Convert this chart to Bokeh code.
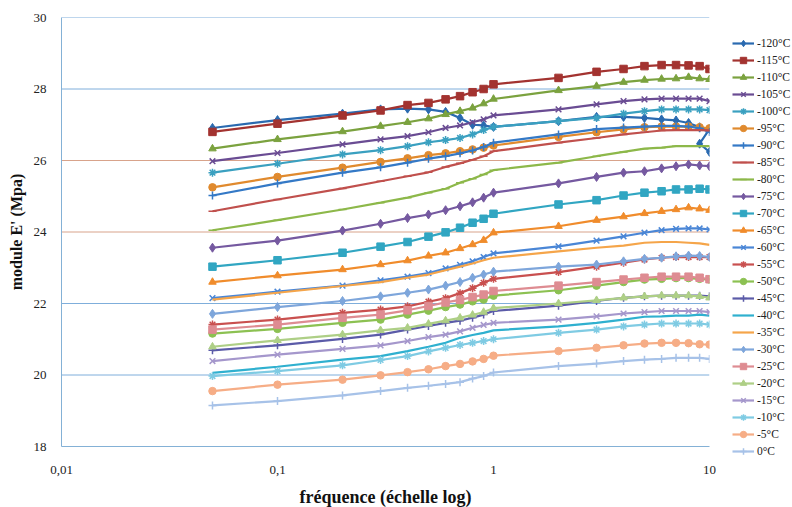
from bokeh.plotting import figure
from bokeh.models import Legend, LegendItem, FixedTicker, Span, CustomJSTickFormatter
from bokeh.embed import file_html
from bokeh.resources import INLINE

# Frequencies (Hz)
freq = [0.05, 0.1, 0.2, 0.3, 0.4, 0.5, 0.6, 0.7, 0.8, 0.9, 1, 2, 3, 4, 5, 6, 7, 8, 9, 10]
freq_m120 = [0.05, 0.1, 0.2, 0.3, 0.4, 0.5, 0.6, 0.7, 0.8, 0.9, 1, 2, 3, 4, 5, 6, 7, 8, 9, 10, 9, 10]

temps = ["-120°C", "-115°C", "-110°C", "-105°C", "-100°C", "-95°C", "-90°C", "-85°C", "-80°C",
         "-75°C", "-70°C", "-65°C", "-60°C", "-55°C", "-50°C", "-45°C", "-40°C", "-35°C",
         "-30°C", "-25°C", "-20°C", "-15°C", "-10°C", "-5°C", "0°C"]

e_m120 = [26.91, 27.13, 27.31, 27.43, 27.45, 27.43, 27.36, 27.19, 27.0, 26.98, 26.94, 27.1, 27.22, 27.22, 27.19, 27.15, 27.12, 27.05, 26.93, 26.88, 26.47, 26.24]
e_m115 = [26.8, 27.03, 27.26, 27.4, 27.55, 27.61, 27.71, 27.8, 27.91, 28.0, 28.13, 28.31, 28.48, 28.56, 28.64, 28.67, 28.67, 28.66, 28.64, 28.56]
e_m110 = [26.33, 26.59, 26.81, 26.96, 27.07, 27.17, 27.29, 27.38, 27.47, 27.59, 27.72, 27.96, 28.08, 28.19, 28.25, 28.28, 28.29, 28.33, 28.29, 28.27]
e_m105 = [25.98, 26.21, 26.45, 26.59, 26.68, 26.79, 26.91, 26.98, 27.07, 27.15, 27.26, 27.43, 27.57, 27.66, 27.71, 27.73, 27.73, 27.73, 27.73, 27.66]
e_m100 = [25.66, 25.91, 26.17, 26.29, 26.4, 26.51, 26.57, 26.63, 26.73, 26.85, 26.94, 27.1, 27.19, 27.31, 27.38, 27.43, 27.43, 27.43, 27.43, 27.41]
e_m95 = [25.25, 25.54, 25.8, 25.96, 26.06, 26.15, 26.2, 26.26, 26.31, 26.36, 26.42, 26.66, 26.79, 26.87, 26.93, 26.95, 26.95, 26.95, 26.93, 26.9]
e_m90 = [25.02, 25.36, 25.66, 25.81, 25.94, 26.05, 26.12, 26.2, 26.28, 26.38, 26.5, 26.73, 26.88, 26.92, 26.95, 26.97, 26.97, 26.95, 26.9, 26.8]
e_m85 = [24.58, 24.91, 25.22, 25.42, 25.56, 25.67, 25.82, 25.92, 26.02, 26.12, 26.26, 26.5, 26.63, 26.73, 26.79, 26.84, 26.85, 26.85, 26.85, 26.84]
e_m80 = [24.05, 24.33, 24.63, 24.82, 24.96, 25.1, 25.21, 25.38, 25.49, 25.61, 25.73, 25.94, 26.12, 26.24, 26.33, 26.36, 26.4, 26.4, 26.4, 26.4]
e_m75 = [23.56, 23.76, 24.04, 24.23, 24.39, 24.49, 24.61, 24.72, 24.83, 24.96, 25.1, 25.36, 25.54, 25.66, 25.7, 25.78, 25.84, 25.89, 25.86, 25.84]
e_m70 = [23.03, 23.21, 23.42, 23.59, 23.72, 23.87, 23.99, 24.12, 24.26, 24.37, 24.51, 24.77, 24.89, 25.02, 25.1, 25.14, 25.19, 25.19, 25.21, 25.19]
e_m65 = [22.6, 22.78, 22.95, 23.09, 23.2, 23.33, 23.42, 23.54, 23.65, 23.77, 23.98, 24.16, 24.33, 24.43, 24.52, 24.58, 24.63, 24.68, 24.65, 24.61]
e_m60 = [22.15, 22.33, 22.5, 22.65, 22.75, 22.85, 22.98, 23.08, 23.18, 23.3, 23.4, 23.6, 23.76, 23.88, 23.98, 24.05, 24.09, 24.1, 24.1, 24.07]
e_m55 = [21.41, 21.55, 21.74, 21.83, 21.92, 22.05, 22.15, 22.29, 22.43, 22.58, 22.69, 22.88, 23.03, 23.14, 23.23, 23.28, 23.3, 23.3, 23.3, 23.3]
e_m50 = [21.16, 21.29, 21.46, 21.55, 21.69, 21.8, 21.9, 21.97, 22.06, 22.11, 22.22, 22.37, 22.5, 22.6, 22.67, 22.69, 22.71, 22.71, 22.69, 22.67]
e_m45 = [20.69, 20.83, 21.01, 21.13, 21.27, 21.37, 21.46, 21.52, 21.6, 21.69, 21.79, 21.94, 22.07, 22.16, 22.2, 22.22, 22.22, 22.22, 22.22, 22.2]
e_m40 = [20.06, 20.23, 20.43, 20.53, 20.67, 20.79, 20.9, 21.04, 21.12, 21.18, 21.25, 21.36, 21.46, 21.55, 21.63, 21.64, 21.66, 21.66, 21.69, 21.66]
e_m35 = [22.11, 22.3, 22.49, 22.6, 22.72, 22.81, 22.93, 23.03, 23.12, 23.21, 23.28, 23.46, 23.56, 23.62, 23.7, 23.72, 23.72, 23.7, 23.68, 23.64]
e_m30 = [21.71, 21.9, 22.07, 22.2, 22.3, 22.39, 22.5, 22.6, 22.72, 22.81, 22.89, 23.03, 23.09, 23.18, 23.25, 23.28, 23.32, 23.34, 23.33, 23.3]
e_m25 = [21.27, 21.41, 21.6, 21.69, 21.81, 21.93, 22.03, 22.1, 22.18, 22.25, 22.35, 22.5, 22.6, 22.67, 22.72, 22.75, 22.75, 22.75, 22.72, 22.68]
e_m20 = [20.79, 20.97, 21.13, 21.25, 21.32, 21.43, 21.52, 21.6, 21.68, 21.76, 21.87, 22.0, 22.09, 22.16, 22.2, 22.22, 22.22, 22.22, 22.2, 22.16]
e_m15 = [20.39, 20.57, 20.73, 20.83, 20.95, 21.06, 21.13, 21.22, 21.32, 21.4, 21.46, 21.55, 21.64, 21.72, 21.76, 21.79, 21.79, 21.79, 21.79, 21.76]
e_m10 = [19.97, 20.11, 20.27, 20.42, 20.53, 20.66, 20.76, 20.84, 20.9, 20.95, 21.0, 21.18, 21.27, 21.36, 21.41, 21.44, 21.44, 21.44, 21.44, 21.41]
e_m5 = [19.55, 19.73, 19.87, 19.99, 20.08, 20.16, 20.25, 20.31, 20.38, 20.45, 20.54, 20.67, 20.76, 20.83, 20.88, 20.9, 20.9, 20.89, 20.86, 20.85]
e_0 = [19.15, 19.27, 19.43, 19.55, 19.64, 19.7, 19.75, 19.8, 19.9, 19.97, 20.07, 20.25, 20.32, 20.39, 20.43, 20.45, 20.48, 20.48, 20.48, 20.45]

colors = ["#2A6AB0", "#A33330", "#7BA23F", "#6A4C93", "#3AA0C0", "#E08A2E", "#3479C6", "#C0504D", "#8DB84A",
          "#7559A0", "#31A6C2", "#F08C2C", "#4A86D6", "#C9504F", "#8CC152", "#5B5BA8", "#2FB0CF", "#F5A54A",
          "#7EA6DB", "#DE8C92", "#AECF86", "#A597CC", "#7FCBE3", "#F6AD86", "#A7C2E8"]
markers = ["diamond", "square", "triangle", "x", "asterisk", "circle", "cross", "dash", "dash",
           "diamond", "square", "triangle", "x", "asterisk", "circle", "cross", None, None,
           "diamond", "square", "triangle", "x", "asterisk", "circle", "cross"]

series = [e_m120, e_m115, e_m110, e_m105, e_m100, e_m95, e_m90, e_m85, e_m80, e_m75, e_m70, e_m65,
          e_m60, e_m55, e_m50, e_m45, e_m40, e_m35, e_m30, e_m25, e_m20, e_m15, e_m10, e_m5, e_0]

x_ticks = [0.01, 0.1, 1, 10]
y_ticks = [18, 20, 22, 24, 26, 28, 30]
blue_grid = [20, 22, 28, 30]
tan_grid = [24, 26]

FONT = "Liberation Serif"

p = figure(x_axis_type="log", x_range=(0.01, 10), y_range=(18, 30),
           frame_width=648, frame_height=429,
           min_border_left=61, min_border_top=17, min_border_right=81, min_border_bottom=0,
           output_backend="svg", toolbar_location=None)
p.outline_line_color = None
p.background_fill_color = "white"

p.xgrid.visible = False
p.ygrid.visible = False
for v in blue_grid:
    p.add_layout(Span(location=v, dimension="width", line_color="#7FAEDB", line_width=1, level="underlay"))
for v in tan_grid:
    p.add_layout(Span(location=v, dimension="width", line_color="#D8A38B", line_width=1, level="underlay"))

for ax in (p.xaxis[0], p.yaxis[0]):
    ax.major_tick_line_color = None
    ax.minor_tick_line_color = None
    ax.axis_line_color = "#84B1D6"
    ax.major_label_text_font = FONT
    ax.major_label_text_font_size = "13px"
    ax.major_label_text_color = "#222222"
    ax.axis_label_text_font = FONT
    ax.axis_label_text_font_style = "bold"
    ax.axis_label_text_color = "#111111"

p.xaxis.ticker = FixedTicker(ticks=x_ticks)
p.xaxis.formatter = CustomJSTickFormatter(code="return String(tick).replace('.', ',');")
p.xaxis.major_label_standoff = 13
p.xaxis.axis_label = "fréquence (échelle log)"
p.xaxis.axis_label_standoff = 10
p.xaxis.axis_label_text_font_size = "18px"

p.yaxis.ticker = FixedTicker(ticks=y_ticks)
p.yaxis.major_label_standoff = 9
p.yaxis.axis_label = "module E' (Mpa)"
p.yaxis.axis_label_standoff = 6
p.yaxis.axis_label_text_font_size = "16px"

items = []
for i, (label, vals, col, mk) in enumerate(zip(temps, series, colors, markers)):
    xs = freq_m120 if i == 0 else freq
    rends = [p.line(xs, vals, line_color=col, line_width=2.2)]
    if mk is not None:
        if mk in ("x", "asterisk", "cross", "dash"):
            rends.append(p.scatter(xs, vals, marker=mk, size=8, line_color=col, line_width=1.5, fill_color=col))
        else:
            sz = 9 if mk == "diamond" else 7.5
            rends.append(p.scatter(xs, vals, marker=mk, size=sz, line_color=col, fill_color=col))
    items.append(LegendItem(label=label, renderers=rends))

legend = Legend(items=items, location=(23, -13))
legend.label_text_font = FONT
legend.label_text_font_size = "11.5px"
legend.label_text_color = "#222222"
legend.glyph_width = 22
legend.glyph_height = 16
legend.label_height = 16
legend.spacing = 1
legend.label_standoff = 3
legend.padding = 4
legend.margin = 0
legend.border_line_color = None
legend.background_fill_alpha = 0
p.add_layout(legend, "right")

open("out.html", "w").write(file_html(p, INLINE))
